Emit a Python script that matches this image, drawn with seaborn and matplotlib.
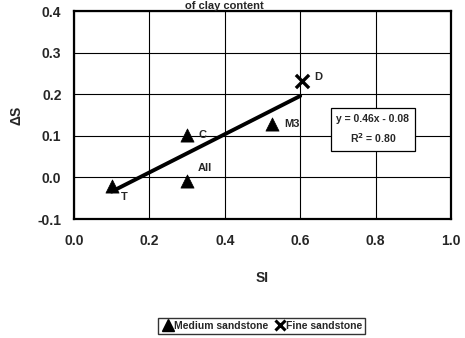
import matplotlib
matplotlib.use("Agg")
import matplotlib.pyplot as plt
from matplotlib.lines import Line2D
import seaborn as sns
import pandas as pd
import numpy as np

sns.set_style("white")
plt.rcParams["font.family"] = ["Liberation Sans", "DejaVu Sans"]
plt.rcParams["font.weight"] = "bold"

# Sample data
labels = ["T", "C", "All", "M3", "D"]
si = [0.10, 0.30, 0.30, 0.525, 0.605]
delta_s = [-0.02, 0.103, -0.008, 0.129, 0.232]
rock = ["Medium sandstone", "Medium sandstone", "Medium sandstone",
        "Medium sandstone", "Fine sandstone"]

# Linear fit reported on the chart
slope, intercept, r2 = 0.46, -0.08, 0.80
fit_x = [0.10, 0.60]

x_ticks = [0.0, 0.2, 0.4, 0.6, 0.8, 1.0]
y_ticks = [-0.1, 0.0, 0.1, 0.2, 0.3, 0.4]

df = pd.DataFrame({"SI": si, "dS": delta_s, "rock": rock, "label": labels})

fig = plt.figure(figsize=(4.65, 3.38), dpi=100)
ax = fig.add_axes([0.159, 0.352, 0.811, 0.615])

sns.scatterplot(data=df[df.rock == "Medium sandstone"], x="SI", y="dS",
                marker="^", color="black", s=90, edgecolor="black",
                linewidth=0.5, ax=ax, legend=False, zorder=4)
sns.scatterplot(data=df[df.rock == "Fine sandstone"], x="SI", y="dS",
                marker="x", color="black", s=90, linewidth=2.4,
                ax=ax, legend=False, zorder=4)

fx = np.array(fit_x)
sns.lineplot(x=fx, y=slope * fx + intercept, color="black", linewidth=2.8,
             ax=ax, zorder=3)

offsets = {"T": (7, -8), "C": (8, 0), "All": (8, 9), "M3": (9, 0), "D": (9, 3)}
for lab, x, y in zip(labels, si, delta_s):
    dx, dy = offsets[lab]
    ax.annotate(lab, (x, y), xytext=(dx, dy), textcoords="offset points",
                fontsize=8, fontweight="bold", va="center", ha="left")

ax.set_xlim(0.0, 1.0)
ax.set_ylim(-0.1, 0.4)
ax.set_xticks(x_ticks)
ax.set_yticks(y_ticks)
ax.set_xticklabels([f"{v:.1f}" for v in x_ticks])
ax.set_yticklabels([f"{v:.1f}" for v in y_ticks])
ax.tick_params(labelsize=10, length=0)
ax.tick_params(axis="x", pad=11)
ax.tick_params(axis="y", pad=9)
for t in ax.get_xticklabels() + ax.get_yticklabels():
    t.set_fontweight("bold")
ax.grid(True, color="black", linewidth=0.8)
for sp in ax.spines.values():
    sp.set_color("black")
    sp.set_linewidth(1.6)
ax.set_xlabel("SI", fontsize=10, fontweight="bold", labelpad=16)
ax.set_ylabel("ΔS", fontsize=10, fontweight="bold", labelpad=10)

ax.text(0.793, 0.43, f"y = {slope:.2f}x - {abs(intercept):.2f}\nR$^2$ = {r2:.2f}",
        transform=ax.transAxes, ha="center", va="center", fontsize=7.5,
        fontweight="bold", linespacing=1.6,
        bbox=dict(boxstyle="square,pad=0.55", facecolor="white",
                  edgecolor="black", linewidth=0.9),
        zorder=5)

fig.text(0.482, 0.997, "of clay content", ha="center", va="top",
         fontsize=8, fontweight="bold")

handles = [Line2D([], [], marker="^", color="black", linestyle="none", markersize=8),
           Line2D([], [], marker="x", color="black", linestyle="none",
                  markersize=7.5, markeredgewidth=2.2)]
fig.legend(handles, ["Medium sandstone", "Fine sandstone"], loc="center",
           bbox_to_anchor=(0.563, 0.0355), ncol=2, frameon=True,
           fancybox=False, edgecolor="black", handletextpad=0.0,
           columnspacing=0.5, borderpad=0.3, handlelength=1.2,
           prop={"weight": "bold", "size": 7.5})

fig.savefig("out.png", dpi=100)
